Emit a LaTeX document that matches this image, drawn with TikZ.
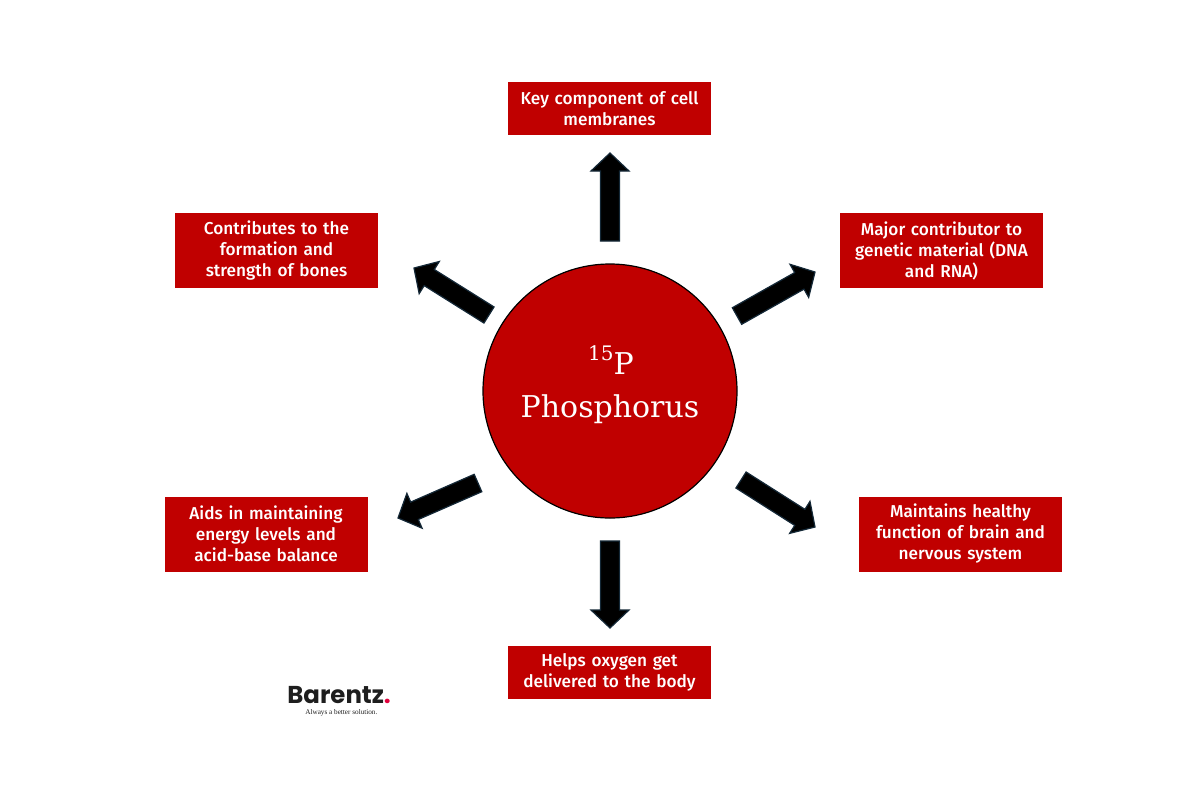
\documentclass[tikz,border=0pt]{standalone}
\usepackage{fontspec}
\setmainfont{Fira Sans}[BoldFont={Fira Sans Medium}]
\newfontfamily\slabfont{DejaVu Serif}
\newfontfamily\logofont{Poppins}
\newfontfamily\tagfont{Liberation Serif}
\usetikzlibrary{calc}
\definecolor{boxred}{RGB}{192,0,0}
\definecolor{arrowedge}{RGB}{20,40,55}
\definecolor{logodot}{RGB}{225,0,60}
\definecolor{logoink}{RGB}{30,30,30}
\tikzset{
  infobox/.style={fill=boxred, text=white, font=\bfseries\fontsize{8.6}{10.5}\selectfont,
    align=center, inner sep=0pt, minimum width=101.5pt, text width=98pt},
  shortbox/.style={infobox, minimum height=26.5pt},
  tallbox/.style={infobox, minimum height=37.5pt},
  barrowsty/.style={fill=black, draw=arrowedge, line width=0.6pt, line join=miter},
  circtext/.style={text=white, inner sep=0pt, anchor=base},
}
\newcommand\blockarrow[2]{%
  \coordinate (hb) at ($(#2)!9pt!(#1)$);
  \draw[barrowsty] ($(#1)!4.75pt!90:(#2)$) -- ($(hb)!4.75pt!90:(#2)$)
    -- ($(hb)!9.5pt!90:(#2)$) -- (#2) -- ($(hb)!9.5pt!-90:(#2)$)
    -- ($(hb)!4.75pt!-90:(#2)$) -- ($(#1)!4.75pt!-90:(#2)$) -- cycle;}
\begin{document}
\begin{tikzpicture}[x=0.5pt,y=-0.5pt]
\fill[white] (0,0) rectangle (1200,800);
\useasboundingbox (0,0) rectangle (1200,800);

% central circle
\node[circle, fill=boxred, draw=black, line width=0.6pt, minimum size=127pt, inner sep=0pt] (core) at (610,391) {};
\node[circtext, font=\slabfont\fontsize{15}{18}\selectfont] (sym) at (611,374)
  {\raisebox{0.45em}{\fontsize{10}{12}\selectfont 15}P};
\node[circtext, font=\slabfont\fontsize{15}{18}\selectfont] (name) at (610,417) {Phosphorus};

% boxes
\node[shortbox] (top) at (609.5,108.5) {Key component of cell\\membranes};
\node[tallbox] (ul) at (276.5,250.5) {Contributes to the\\formation and\\strength of bones};
\node[tallbox] (ur) at (941.5,250.5) {Major contributor to\\genetic material (DNA\\and RNA)};
\node[tallbox] (ll) at (266,534) {Aids in maintaining\\energy levels and\\acid-base balance};
\node[tallbox] (lr) at (960.5,534) {Maintains healthy\\function of brain and\\nervous system};
\node[shortbox] (bot) at (609.5,672.5) {Helps oxygen get\\delivered to the body};

% arrows
\coordinate (t1) at (610,241); \coordinate (h1) at (610,153);
\coordinate (t2) at (489,315); \coordinate (h2) at (414,268);
\coordinate (t3) at (737,316); \coordinate (h3) at (815,272);
\coordinate (t4) at (478,483); \coordinate (h4) at (398,518);
\coordinate (t5) at (741,480); \coordinate (h5) at (815,527);
\coordinate (t6) at (610,541); \coordinate (h6) at (610,628);
\blockarrow{t1}{h1}
\blockarrow{t2}{h2}
\blockarrow{t3}{h3}
\blockarrow{t4}{h4}
\blockarrow{t5}{h5}
\blockarrow{t6}{h6}

% logo
\node[anchor=base west, inner sep=0pt, text=logoink, font=\logofont\bfseries\fontsize{12.2}{13}\selectfont] (logo) at (287,703)
  {Barentz\textcolor{logodot}{.}};
\node[anchor=base west, inner sep=0pt, text=logoink, font=\tagfont\fontsize{3.6}{4}\selectfont] (tag) at (305,714)
  {Always a better solution.};
\end{tikzpicture}
\end{document}
